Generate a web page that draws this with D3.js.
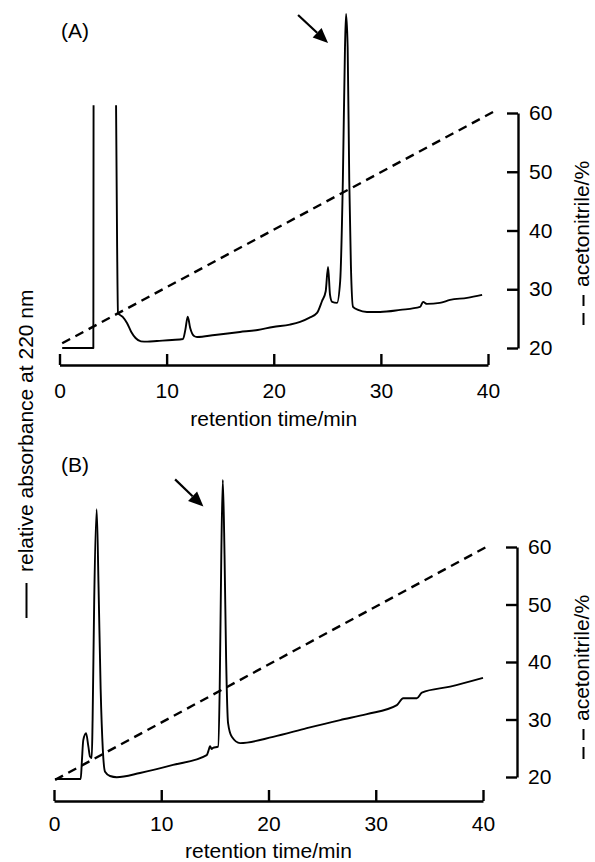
<!DOCTYPE html>
<html>
<head>
<meta charset="utf-8">
<script src="https://cdn.jsdelivr.net/npm/d3@7"></script>
<style>
  body { margin: 0; background: #fff; }
  svg { display: block; }
  text { font-family: 'Liberation Sans', Arial, Helvetica, sans-serif; fill: #000; }
</style>
</head>
<body>
<svg id="chart" width="595" height="862"></svg>
<script>
// retention time ticks and acetonitrile ticks
var timeTicks = [0, 10, 20, 30, 40];
var acnTicks = [20, 30, 40, 50, 60];

// (A) absorbance trace, relative units; null = detector off scale
var traceA = [
  [0.25, 0], [3.16, 0], [3.18, 72.7], [3.2, null], [5.26, null], [5.28, 72.7],
  [5.38, 30], [5.46, 10.5], [5.9, 9.3], [6.3, 7.5], [6.7, 4.8], [7.1, 3],
  [7.6, 2], [8.2, 1.9], [9.1, 2.1], [10.5, 2.4], [11.53, 2.7], [11.75, 5.5],
  [11.97, 9.4], [12.2, 6], [12.56, 3.6], [12.84, 3.3], [14.5, 3.9], [16.85, 4.8],
  [18.5, 5.4], [19.93, 6.3], [21.5, 7], [22.46, 7.8], [23.3, 9], [24.04, 10.5],
  [24.5, 14], [24.85, 17], [25.07, 24.3], [25.25, 16], [25.45, 13.8],
  [25.9, 13.5], [26.2, 20], [26.45, 50], [26.65, 90], [26.75, 100], [26.9, 90],
  [27.05, 50], [27.2, 25], [27.4, 12.3], [27.87, 11.4], [28.7, 10.8],
  [29.93, 10.8], [31.8, 11.4], [33.66, 12.3], [33.94, 13.8], [34.3, 13.2],
  [35.5, 13.5], [36.46, 14.4], [38.05, 15], [39.45, 15.9]
];

// (B) absorbance trace
var traceB = [
  [0.1, 0], [2.49, 0], [2.6, 6], [2.73, 13], [2.99, 15.3], [3.2, 11],
  [3.36, 7.5], [3.52, 7], [3.6, 20], [3.75, 60], [3.98, 90.2], [4.15, 65],
  [4.35, 30], [4.55, 10], [4.76, 2.4], [5.22, 1], [5.85, 0.6], [8.02, 2],
  [11.1, 4.7], [14.24, 8], [14.45, 10], [14.55, 11], [14.7, 10], [14.83, 10.4],
  [15.3, 10.8], [15.45, 30], [15.6, 75], [15.74, 100], [15.9, 75], [16.05, 40],
  [16.23, 18.7], [16.58, 14.1], [17.35, 12], [20.43, 14.1], [23.57, 17],
  [26.68, 19.7], [29.17, 21.7], [31.97, 24.7], [32.56, 27], [33.83, 27],
  [34.3, 28.9], [36.94, 30.9], [40.0, 33.8]
];

// acetonitrile gradient (%)
var gradientA = [[0.25, 20.8], [40.5, 60.2]];
var gradientB = [[0.1, 19.5], [40.3, 60]];

// arrows pointing at the collected peak: [t0, abs0, t1, abs1]
var arrowA = [22.27, 99.7, 25.07, 91.3];
var arrowB = [11.29, 100.2, 13.93, 91.1];

var svg = d3.select("#chart");

var panels = [
  { label: "(A)", trace: traceA, grad: gradientA, arrow: arrowA,
    xr: [59.5, 488], axisY: 365, absR: [348, 14], acnR: [348, 113], rightX: 518,
    tickPad: 18, titleY: 426, labelY: 38, rTitleY: 287 },
  { label: "(B)", trace: traceB, grad: gradientB, arrow: arrowB,
    xr: [54, 483], axisY: 801, absR: [779, 480], acnR: [777, 547], rightX: 517,
    tickPad: 15, titleY: 858, labelY: 472, rTitleY: 721 }
];

panels.forEach(function(p) {
  var x = d3.scaleLinear().domain([0, 40]).range(p.xr);
  var yAbs = d3.scaleLinear().domain([0, 100]).range(p.absR);
  var yAcn = d3.scaleLinear().domain([20, 60]).range(p.acnR);
  var g = svg.append("g");

  // bottom axis, ticks pointing up
  var xa = g.append("g")
    .attr("transform", "translate(0," + p.axisY + ")")
    .call(d3.axisBottom(x).tickValues(timeTicks).tickSizeInner(-11).tickSizeOuter(0)
      .tickPadding(p.tickPad).tickFormat(d3.format("d")));
  // right axis, ticks pointing left
  var ya = g.append("g")
    .attr("transform", "translate(" + p.rightX + ",0)")
    .call(d3.axisRight(yAcn).tickValues(acnTicks).tickSizeInner(-11).tickSizeOuter(0)
      .tickPadding(11).tickFormat(d3.format("d")));
  [xa, ya].forEach(function(a) {
    a.selectAll("path, line").attr("stroke", "#000").attr("stroke-width", 2.4);
    a.selectAll("text").style("font-size", "21px")
      .style("font-family", "'Liberation Sans', Arial, sans-serif");
  });

  // gradient
  g.append("path")
    .datum(p.grad)
    .attr("fill", "none").attr("stroke", "#000").attr("stroke-width", 2.4)
    .attr("stroke-dasharray", "9,6")
    .attr("d", d3.line().x(function(d) { return x(d[0]); }).y(function(d) { return yAcn(d[1]); }));

  // absorbance trace
  g.append("path")
    .datum(p.trace)
    .attr("fill", "none").attr("stroke", "#000").attr("stroke-width", 1.9)
    .attr("stroke-linejoin", "round")
    .attr("d", d3.line()
      .defined(function(d) { return d[1] != null; })
      .curve(d3.curveMonotoneX)
      .x(function(d) { return x(d[0]); })
      .y(function(d) { return yAbs(d[1]); }));

  // arrow
  var x0 = x(p.arrow[0]), y0 = yAbs(p.arrow[1]), x1 = x(p.arrow[2]), y1 = yAbs(p.arrow[3]);
  var ang = Math.atan2(y1 - y0, x1 - x0), hl = 15, hw = 6.5;
  var bx = x1 - hl * Math.cos(ang), by = y1 - hl * Math.sin(ang);
  g.append("line")
    .attr("x1", x0).attr("y1", y0).attr("x2", bx).attr("y2", by)
    .attr("stroke", "#000").attr("stroke-width", 2.2);
  g.append("path")
    .attr("d", "M" + x1 + "," + y1 +
      "L" + (bx + hw * Math.sin(ang)) + "," + (by - hw * Math.cos(ang)) +
      "L" + (bx - hw * Math.sin(ang)) + "," + (by + hw * Math.cos(ang)) + "Z")
    .attr("fill", "#000");

  // texts
  g.append("text").attr("x", 61).attr("y", p.labelY)
    .style("font-size", "21px").text(p.label);
  g.append("text").attr("x", (p.xr[0] + p.xr[1]) / 2).attr("y", p.titleY)
    .attr("text-anchor", "middle").style("font-size", "21px")
    .text("retention time/min");
  // right title with dashed-line key
  g.append("line")
    .attr("x1", 583.5).attr("x2", 583.5)
    .attr("y1", p.rTitleY + 38).attr("y2", p.rTitleY + 8)
    .attr("stroke", "#000").attr("stroke-width", 2)
    .attr("stroke-dasharray", "12,7");
  g.append("text")
    .attr("transform", "translate(589," + p.rTitleY + ") rotate(-90)")
    .style("font-size", "21px")
    .text("acetonitrile/%");
});

// shared left title with solid-line key
svg.append("line")
  .attr("x1", 26.5).attr("x2", 26.5).attr("y1", 618).attr("y2", 583)
  .attr("stroke", "#000").attr("stroke-width", 2);
svg.append("text")
  .attr("transform", "translate(33,572) rotate(-90)")
  .style("font-size", "21px")
  .text("relative absorbance at 220 nm");
</script>
</body>
</html>
